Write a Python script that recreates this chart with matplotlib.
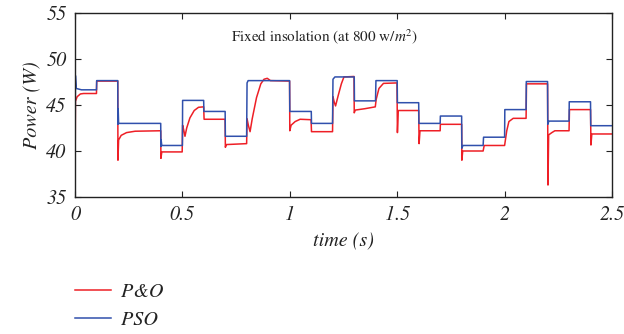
import matplotlib
matplotlib.use("Agg")
import matplotlib.pyplot as plt

# ---- data ----
po_time = [0.000, 0.002, 0.010, 0.025, 0.040, 0.100, 0.101, 0.199, 0.200, 0.203,
           0.215, 0.240, 0.280, 0.399, 0.400, 0.404, 0.499, 0.501, 0.506, 0.512,
           0.520, 0.535, 0.555, 0.575, 0.599, 0.601, 0.699, 0.700, 0.705, 0.799,
           0.801, 0.807, 0.815, 0.825, 0.845, 0.865, 0.880, 0.895, 0.910, 0.999,
           1.000, 1.006, 1.025, 1.048, 1.099, 1.101, 1.199, 1.201, 1.207, 1.213,
           1.225, 1.240, 1.252, 1.299, 1.300, 1.305, 1.350, 1.398, 1.402, 1.415,
           1.436, 1.499, 1.501, 1.505, 1.600, 1.602, 1.606, 1.700, 1.701, 1.800,
           1.801, 1.805, 1.900, 1.905, 2.000, 2.010, 2.020, 2.040, 2.100, 2.102,
           2.200, 2.202, 2.205, 2.220, 2.234, 2.300, 2.302, 2.400, 2.402, 2.406,
           2.500]
po_power = [35.5, 45.4, 45.9, 46.2, 46.25, 46.25, 47.6, 47.6, 39.0, 41.2,
            41.7, 42.0, 42.15, 42.2, 39.2, 39.9, 39.9, 42.8, 42.3, 41.6,
            42.5, 43.6, 44.4, 44.75, 44.8, 43.45, 43.45, 40.4, 40.7, 40.8,
            43.5, 42.8, 42.1, 43.5, 45.8, 47.3, 47.8, 47.9, 47.65, 47.6,
            42.2, 42.8, 43.2, 43.45, 43.4, 42.1, 42.1, 45.9, 45.3, 44.9,
            46.0, 47.3, 48.05, 48.1, 44.15, 44.45, 44.6, 44.8, 45.6, 46.8,
            47.35, 47.4, 42.0, 44.4, 44.4, 40.8, 42.2, 42.2, 42.9, 42.9,
            39.0, 40.0, 40.0, 40.6, 40.6, 42.2, 43.2, 43.55, 43.55, 47.3,
            47.3, 36.3, 41.75, 42.0, 42.2, 42.2, 44.5, 44.5, 40.65, 41.85,
            41.85]

pso_time = [0.000, 0.002, 0.006, 0.030, 0.100, 0.101, 0.199, 0.200, 0.201, 0.203,
            0.399, 0.400, 0.401, 0.404, 0.500, 0.501, 0.599, 0.600, 0.699, 0.700,
            0.799, 0.801, 0.806, 0.999, 1.000, 1.100, 1.101, 1.199, 1.201, 1.210,
            1.300, 1.301, 1.399, 1.401, 1.500, 1.501, 1.600, 1.601, 1.700, 1.701,
            1.800, 1.801, 1.806, 1.900, 1.902, 2.000, 2.001, 2.100, 2.101, 2.200,
            2.201, 2.206, 2.300, 2.301, 2.400, 2.401, 2.500]
pso_power = [37.5, 48.2, 46.8, 46.65, 46.65, 47.65, 47.65, 42.9, 44.6, 43.0,
             43.0, 40.5, 41.2, 40.6, 40.6, 45.5, 45.5, 44.3, 44.3, 41.6,
             41.6, 47.4, 47.65, 47.65, 44.3, 44.3, 43.0, 43.0, 47.8, 48.05,
             48.05, 45.45, 45.45, 47.65, 47.65, 45.25, 45.25, 43.0, 43.0, 43.8,
             43.8, 40.3, 40.6, 40.6, 41.5, 41.5, 44.5, 44.5, 47.55, 47.55,
             42.9, 43.25, 43.25, 45.35, 45.35, 42.75, 42.75]

series_labels = ["P&O", "PSO"]
x_ticks = [0, 0.5, 1, 1.5, 2, 2.5]
x_tick_labels = ["0", "0.5", "1", "1.5", "2", "2.5"]
y_ticks = [35, 40, 45, 50, 55]
annotation = r"Fixed insolation (at 800 w/$m^2$)"

# ---- style ----
plt.rcParams["font.family"] = ["STIXGeneral", "DejaVu Serif"]
plt.rcParams["mathtext.fontset"] = "stix"

fig = plt.figure(figsize=(6.24, 3.34), dpi=100)
ax = fig.add_axes([75 / 624, 1 - 197 / 334, 537 / 624, 184 / 334])

red = "#ee1f26"
blue = "#3050ac"
l1, = ax.plot(po_time, po_power, color=red, lw=1.1, label=series_labels[0])
l2, = ax.plot(pso_time, pso_power, color=blue, lw=1.1, label=series_labels[1])

ax.set_xlim(0, 2.5)
ax.set_ylim(35, 55)
ax.set_xticks(x_ticks)
ax.set_xticklabels(x_tick_labels)
ax.set_yticks(y_ticks)
ax.tick_params(direction="in", length=4, width=0.8, top=True, right=True,
               labelsize=14.5, pad=6, colors="#222222")
for lab in ax.get_xticklabels() + ax.get_yticklabels():
    lab.set_fontstyle("italic")
for s in ax.spines.values():
    s.set_linewidth(1.0)
    s.set_color("#222222")

ax.set_xlabel("time (s)", fontsize=14.5, style="italic", labelpad=6, color="#222222")
ax.set_ylabel("Power (W)", fontsize=14.5, style="italic", labelpad=4, color="#222222")

ax.text(0.464, 0.87, annotation, transform=ax.transAxes, ha="center", va="center",
        fontsize=10.9, color="#222222")

leg = fig.legend(handles=[l1, l2], loc="upper left",
                 bbox_to_anchor=(75 / 624, 1 - 283 / 334), frameon=False,
                 prop={"size": 14.5, "style": "italic"}, handlelength=1.8,
                 handletextpad=0.5, labelspacing=0.45, borderpad=0, borderaxespad=0)
for t in leg.get_texts():
    t.set_color("#222222")

fig.savefig("out.png", dpi=100)
